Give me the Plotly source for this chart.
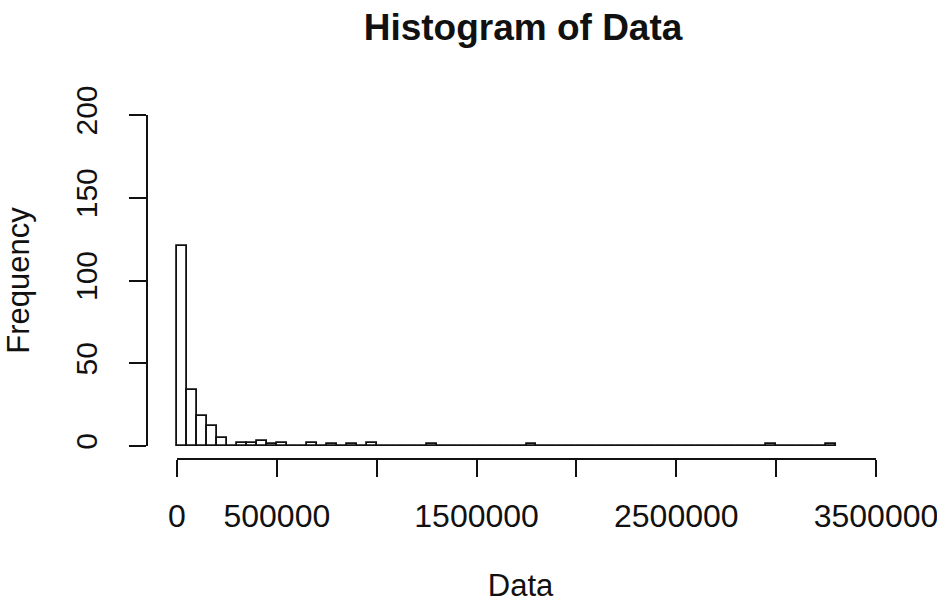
import plotly.graph_objects as go

# Histogram counts, one per 50 000-wide bin starting at 0
bin_width = 50000
counts = [121, 34, 18, 12, 5, 0, 2, 2, 3, 1,
          2, 0, 0, 2, 0, 1, 0, 1, 0, 2,
          0, 0, 0, 0, 0, 1, 0, 0, 0, 0,
          0, 0, 0, 0, 0, 1, 0, 0, 0, 0,
          0, 0, 0, 0, 0, 0, 0, 0, 0, 0,
          0, 0, 0, 0, 0, 0, 0, 0, 0, 1,
          0, 0, 0, 0, 0, 1]

x_ticks = [0, 500000, 1000000, 1500000, 2000000, 2500000, 3000000, 3500000]
x_tick_text = ["0", "500000", "", "1500000", "", "2500000", "", "3500000"]
y_ticks = [0, 50, 100, 150, 200]
y_tick_text = ["0", "50", "100", "150", "200"]

edges = [i * bin_width for i in range(len(counts) + 1)]
centers = [(a + b) / 2 for a, b in zip(edges[:-1], edges[1:])]

INK = "#111111"
FONT = "Liberation Sans, Arial, sans-serif"
LW = 1.8

# frame in pixels (page 937 x 608)
W, H = 937, 608
axis_x_px, axis_y_px = 147, 459          # free-standing axis lines
zero_px, plot_r = 177, 876               # x pixel of 0 and of the last tick
plot_t, plot_b = 115, 446                # y data area

# a little room left of 0 so the first bar's outline is not clipped
px_per_unit = (plot_r - zero_px) / (x_ticks[-1] - x_ticks[0])
x_pad = 12 / px_per_unit
plot_l = zero_px - x_pad * px_per_unit

paper_w = plot_r - axis_x_px
paper_h = axis_y_px - plot_t

fig = go.Figure()

# baseline drawn under every bin, empty ones included
fig.add_trace(go.Scatter(
    x=[edges[0], edges[-1]], y=[0, 0], mode="lines",
    line=dict(color=INK, width=LW), hoverinfo="skip", showlegend=False,
))

fig.add_trace(go.Bar(
    x=centers, y=counts, width=bin_width,
    marker=dict(color="white", line=dict(color=INK, width=LW)),
    showlegend=False,
))

# x axis line runs from the first to the last tick only
fig.add_shape(
    type="line", xref="x", yref="paper",
    x0=x_ticks[0], x1=x_ticks[-1], y0=0, y1=0,
    line=dict(color=INK, width=LW),
)

fig.update_layout(
    width=W, height=H,
    paper_bgcolor="white", plot_bgcolor="white",
    margin=dict(l=axis_x_px, r=W - plot_r, t=plot_t, b=H - axis_y_px, pad=0,
                autoexpand=False),
    font=dict(family=FONT, color=INK, size=32),
    title=dict(
        text="<b>Histogram of Data</b>",
        font=dict(family=FONT, size=37, color=INK),
        xref="container", x=523 / W, xanchor="center",
        yref="container", y=1 - 27 / H, yanchor="middle",
    ),
    bargap=0,
    xaxis=dict(
        domain=[(plot_l - axis_x_px) / paper_w, 1],
        range=[x_ticks[0] - x_pad, x_ticks[-1]],
        anchor="free", position=0, automargin=False,
        showline=False,
        ticks="outside", ticklen=17, tickwidth=LW, tickcolor=INK,
        tickvals=x_ticks, ticktext=x_tick_text,
        tickfont=dict(size=32), ticklabelstandoff=12,
        ticklabeloverflow="allow",
        showgrid=False, zeroline=False,
        title=dict(text="Data", font=dict(size=31), standoff=40),
    ),
    yaxis=dict(
        domain=[(axis_y_px - plot_b) / paper_h, 1],
        range=[y_ticks[0], y_ticks[-1]],
        anchor="free", position=0, automargin=False,
        showline=True, linecolor=INK, linewidth=LW,
        ticks="outside", ticklen=17, tickwidth=LW, tickcolor=INK,
        tickvals=y_ticks, ticktext=y_tick_text, tickangle=-90,
        tickfont=dict(size=30), ticklabelstandoff=20,
        ticklabeloverflow="allow",
        showgrid=False, zeroline=False,
        title=dict(text="Frequency", font=dict(size=31), standoff=30),
    ),
)

fig.write_html("out.html")
